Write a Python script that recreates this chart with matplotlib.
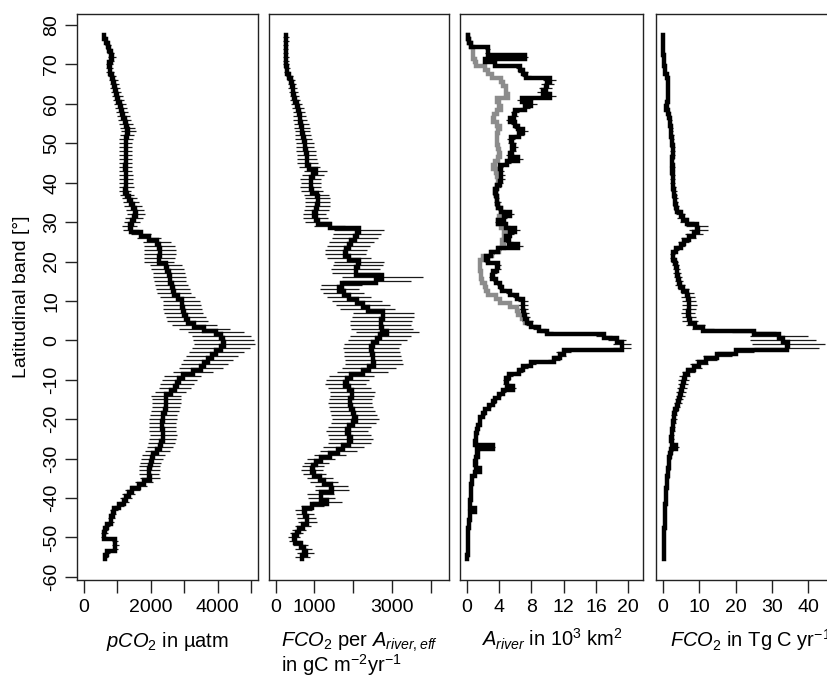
import matplotlib
matplotlib.use("Agg")
import matplotlib.pyplot as plt
import numpy as np

plt.rcParams["font.family"] = ["Liberation Sans", "DejaVu Sans"]
plt.rcParams["mathtext.fontset"] = "custom"
plt.rcParams["mathtext.rm"] = "Liberation Sans"
plt.rcParams["mathtext.it"] = "Liberation Sans:italic"

# latitude bands, 77N to 55S
lat = np.arange(77, -56, -1)

pco2 = [600, 680, 720, 760, 800, 850, 800, 760, 770, 790,
        840, 880, 910, 940, 970, 1000, 1030, 1070, 1100, 1140,
        1180, 1220, 1260, 1300, 1330, 1280, 1260, 1250, 1255, 1250,
        1250, 1255, 1250, 1240, 1250, 1260, 1265, 1260, 1270, 1230,
        1280, 1360, 1400, 1470, 1520, 1560, 1500, 1430, 1370, 1400,
        1700, 1950, 2180, 2250, 2280, 2280, 2250, 2240, 2450, 2500,
        2540, 2570, 2580, 2620, 2670, 2690, 2800, 2920, 2940, 2950,
        2990, 3060, 3100, 3300, 3600, 3950, 4100, 4170, 4200, 4100,
        3950, 3820, 3700, 3600, 3500, 3250, 2950, 2850, 2780, 2730,
        2600, 2460, 2460, 2460, 2450, 2420, 2380, 2360, 2340, 2350,
        2360, 2370, 2360, 2320, 2280, 2200, 2080, 2040, 2000, 1970,
        1960, 1960, 1980, 1800, 1640, 1450, 1340, 1260, 1200, 1050,
        890, 860, 820, 800, 700, 640, 620, 610, 930, 940,
        930, 700, 650]
pco2_err = [60, 70, 80, 90, 100, 120, 110, 100, 110, 120,
            130, 140, 140, 150, 150, 160, 170, 180, 180, 190,
            200, 200, 210, 220, 230, 210, 200, 200, 200, 190,
            200, 200, 190, 190, 200, 200, 210, 200, 220, 190,
            210, 230, 240, 260, 270, 280, 260, 240, 220, 240,
            300, 350, 420, 460, 470, 470, 460, 450, 470, 480,
            480, 490, 480, 490, 500, 510, 520, 560, 560, 570,
            580, 600, 620, 680, 760, 840, 880, 900, 900, 860,
            820, 780, 740, 700, 660, 600, 560, 520, 500, 480,
            460, 440, 430, 430, 420, 420, 410, 410, 400, 400,
            400, 400, 400, 390, 380, 360, 340, 330, 320, 310,
            310, 300, 300, 280, 260, 230, 200, 180, 160, 140,
            120, 110, 100, 100, 90, 90, 90, 90, 100, 100,
            100, 90, 80]

fco2_area = [260, 260, 260, 260, 260, 265, 270, 275, 290, 300,
             350, 390, 420, 440, 460, 480, 510, 540, 570, 600,
             620, 640, 660, 680, 690, 710, 730, 750, 760, 780,
             800, 810, 820, 870, 1030, 960, 900, 905, 910, 930,
             1060, 1080, 1080, 1075, 1050, 1000, 1030, 1090, 1400, 2150,
             2100, 2050, 1950, 1880, 1810, 1800, 1900, 2150, 2120, 2060,
             2080, 2750, 2600, 1700, 1640, 1760, 1900, 2100, 2250, 2370,
             2780, 2760, 2720, 2710, 2750, 2880, 2700, 2620, 2500, 2460,
             2480, 2500, 2520, 2540, 2400, 2250, 1950, 1850, 1800, 1900,
             1980, 1960, 1930, 1920, 1950, 1990, 2020, 2060, 2000, 1900,
             1850, 1900, 1940, 1900, 1750, 1620, 1400, 1170, 1050, 960,
             940, 1000, 1150, 1250, 1440, 1450, 1160, 1180, 1330, 950,
             730, 760, 800, 820, 700, 600, 540, 480, 500, 650,
             720, 770, 690]
fco2_area_err = [80, 80, 70, 70, 70, 70, 70, 80, 80, 80,
                 90, 100, 100, 110, 110, 120, 130, 140, 150, 160,
                 170, 180, 190, 200, 200, 210, 220, 230, 240, 250,
                 250, 250, 260, 270, 300, 280, 260, 260, 270, 280,
                 320, 330, 330, 330, 320, 300, 320, 330, 400, 650,
                 630, 600, 580, 560, 540, 540, 570, 640, 640, 620,
                 620, 1050, 900, 520, 500, 530, 570, 640, 700, 720,
                 780, 800, 790, 780, 800, 820, 780, 760, 740, 720,
                 720, 730, 740, 740, 700, 660, 580, 560, 540, 560,
                 580, 570, 560, 560, 570, 580, 590, 600, 580, 560,
                 540, 560, 570, 560, 520, 480, 420, 350, 320, 290,
                 280, 300, 340, 370, 420, 430, 350, 350, 390, 290,
                 220, 230, 240, 240, 210, 180, 160, 150, 150, 190,
                 210, 220, 200]

a_river = [0.1, 0.3, 0.5, 2.6, 2.6, 7.2, 2.3, 3.5, 6.6, 7.0,
           7.4, 10.3, 10.0, 9.8, 9.5, 10.3, 6.8, 8.0, 7.2, 6.0,
           5.8, 5.4, 6.0, 6.4, 7.0, 6.5, 5.5, 5.6, 5.8, 5.6,
           5.4, 6.4, 5.0, 4.1, 4.2, 4.3, 4.3, 4.1, 3.8, 3.5,
           3.6, 3.7, 3.8, 3.9, 4.3, 5.4, 4.6, 3.9, 4.8, 6.0,
           5.4, 4.8, 5.2, 6.3, 3.9, 3.0, 2.4, 2.6, 3.9, 3.8,
           3.3, 3.1, 3.6, 4.1, 4.4, 5.4, 6.2, 7.0, 7.0, 7.0,
           7.1, 7.2, 7.5, 8.0, 9.0, 9.9, 17.0, 18.6, 19.2, 19.2,
           12.0, 11.5, 10.8, 8.0, 7.0, 6.5, 5.2, 4.9, 5.0, 5.7,
           4.5, 4.0, 3.5, 3.3, 2.8, 2.2, 2.0, 1.7, 1.6, 1.4,
           1.3, 1.2, 1.1, 1.0, 3.3, 1.3, 1.4, 1.1, 1.0, 1.2,
           1.6, 1.0, 0.6, 0.6, 0.5, 0.5, 0.5, 0.5, 0.4, 0.4,
           1.0, 0.4, 0.4, 0.3, 0.3, 0.2, 0.2, 0.2, 0.2, 0.1,
           0.1, 0.1, 0.0]
a_river_err = [0.05, 0.1, 0.1, 0.3, 0.3, 0.4, 0.3, 0.3, 0.5, 0.6,
               0.6, 0.8, 0.8, 0.8, 0.8, 0.8, 0.6, 0.7, 0.6, 0.5,
               0.5, 0.5, 0.5, 0.6, 0.6, 0.6, 0.5, 0.5, 0.5, 0.5,
               0.5, 0.6, 0.5, 0.4, 0.4, 0.4, 0.4, 0.4, 0.4, 0.3,
               0.3, 0.3, 0.4, 0.4, 0.4, 0.5, 0.4, 0.4, 0.5, 0.6,
               0.5, 0.5, 0.5, 0.7, 0.4, 0.4, 0.3, 0.3, 0.3, 0.4,
               0.4, 0.3, 0.3, 0.4, 0.4, 0.5, 0.5, 0.6, 0.6, 0.6,
               0.6, 0.6, 0.7, 0.7, 0.8, 0.8, 1.0, 1.1, 1.1, 1.1,
               0.9, 0.8, 0.7, 0.6, 0.6, 0.5, 0.5, 0.4, 0.5, 0.4,
               0.4, 0.3, 0.3, 0.3, 0.2, 0.2, 0.2, 0.1, 0.1, 0.1,
               0.1, 0.1, 0.1, 0.1, 0.2, 0.1, 0.1, 0.1, 0.1, 0.1,
               0.1, 0.1, 0.05, 0.05, 0.05, 0.05, 0.05, 0.05, 0.05, 0.05,
               0.05, 0.05, 0.05, 0.05, 0.05, 0.05, 0.05, 0.05, 0.05, 0.05,
               0.05, 0.05, 0.05]

# effective river area (grey), only differs north of 5N
lat_eff = np.arange(77, 4, -1)
a_river_eff = [0.1, 0.3, 0.5, 0.8, 0.8, 0.8, 1.0, 1.2, 2.2, 2.6,
               3.1, 4.3, 4.5, 4.9, 4.9, 5.1, 3.7, 4.0, 4.3, 3.8,
               3.4, 3.3, 3.8, 4.1, 3.9, 3.7, 3.7, 3.8, 3.9, 4.0,
               4.1, 3.9, 3.5, 3.3, 3.6, 3.8, 3.9, 3.9, 3.8, 3.5,
               3.6, 3.7, 3.8, 3.9, 4.2, 4.3, 4.0, 3.9, 4.2, 4.6,
               5.0, 4.6, 4.4, 4.6, 4.0, 3.1, 2.0, 1.6, 1.6, 1.7,
               1.8, 1.8, 1.9, 2.2, 2.4, 2.6, 3.6, 4.1, 5.4, 6.2,
               6.4, 6.8, 7.2]

fco2 = [0.0, 0.1, 0.1, 0.2, 0.2, 0.3, 0.3, 0.4, 0.5, 0.7,
        1.1, 1.4, 1.4, 1.4, 1.4, 1.4, 1.4, 1.2, 0.9, 1.5,
        1.8, 2.0, 2.1, 2.2, 2.3, 2.4, 2.5, 2.6, 2.7, 2.7,
        2.7, 2.6, 2.6, 2.7, 2.6, 2.7, 2.7, 2.8, 2.9, 3.1,
        3.2, 3.3, 3.5, 3.6, 4.0, 4.9, 5.5, 6.7, 9.3, 9.8,
        8.5, 7.1, 5.8, 4.9, 3.6, 2.7, 2.9, 3.3, 3.6, 3.8,
        4.0, 4.2, 4.5, 4.8, 5.6, 6.7, 7.0, 7.2, 7.3, 7.2,
        7.0, 7.2, 7.5, 9.0, 11.0, 25.0, 32.0, 33.0, 34.5, 34.0,
        20.0, 15.0, 12.0, 10.0, 8.5, 7.0, 6.0, 5.8, 5.6, 5.3,
        5.0, 4.8, 4.5, 4.2, 3.8, 3.4, 3.1, 3.0, 2.9, 2.7,
        2.6, 2.5, 2.4, 2.5, 3.7, 2.2, 2.0, 1.8, 1.7, 1.6,
        1.5, 1.4, 1.3, 1.2, 1.1, 1.0, 0.9, 0.8, 0.8, 0.7,
        0.6, 0.6, 0.5, 0.5, 0.5, 0.4, 0.4, 0.4, 0.3, 0.3,
        0.3, 0.3, 0.3]
fco2_err = [0.05, 0.05, 0.05, 0.1, 0.1, 0.1, 0.1, 0.1, 0.1, 0.15,
            0.2, 0.2, 0.2, 0.2, 0.2, 0.3, 0.3, 0.3, 0.3, 0.4,
            0.4, 0.5, 0.5, 0.5, 0.5, 0.6, 0.6, 0.6, 0.6, 0.6,
            0.6, 0.6, 0.6, 0.6, 0.6, 0.6, 0.6, 0.7, 0.7, 0.7,
            0.7, 0.8, 0.8, 0.8, 1.0, 1.2, 1.5, 2.0, 3.0, 2.5,
            2.5, 2.0, 1.5, 1.2, 0.9, 0.7, 0.8, 0.9, 1.0, 1.0,
            1.1, 1.1, 1.2, 1.3, 1.5, 1.8, 1.9, 2.0, 2.0, 2.0,
            2.0, 2.0, 2.2, 2.5, 3.0, 6.0, 8.0, 9.0, 10.0, 9.0,
            5.0, 4.0, 3.0, 2.5, 2.2, 1.8, 1.6, 1.5, 1.4, 1.4,
            1.3, 1.2, 1.2, 1.1, 1.0, 0.9, 0.8, 0.8, 0.7, 0.7,
            0.7, 0.6, 0.6, 0.6, 0.9, 0.5, 0.5, 0.4, 0.4, 0.4,
            0.4, 0.3, 0.3, 0.3, 0.3, 0.2, 0.2, 0.2, 0.2, 0.2,
            0.1, 0.1, 0.1, 0.1, 0.1, 0.1, 0.1, 0.1, 0.1, 0.1,
            0.1, 0.1, 0.1]

lat_ticks = list(range(80, -61, -10))


def band_steps(lats, values):
    """Turn band values into a vertical step line (one flat segment per band)."""
    lats = np.asarray(lats, dtype=float)
    y = np.column_stack([lats + 0.5, lats - 0.5]).ravel()
    x = np.repeat(np.asarray(values, dtype=float), 2)
    return x, y


def draw_panel(ax, values, errors, color="black"):
    v = np.asarray(values)
    e = np.asarray(errors)
    ax.hlines(lat, v - e, v + e, color="#1a1a1a", lw=0.9, zorder=2)
    x, y = band_steps(lat, values)
    ax.plot(x, y, color=color, lw=3.2, solid_joinstyle="miter", zorder=3)


fig = plt.figure(figsize=(8.28, 6.81), dpi=100)
W, H = 828.0, 681.0
bottom = (H - 580) / H
height = (580 - 14) / H
ax1 = fig.add_axes([77 / W, bottom, 181 / W, height])
ax2 = fig.add_axes([269 / W, bottom, 180 / W, height])
ax3 = fig.add_axes([460 / W, bottom, 183 / W, height])
ax4 = fig.add_axes([656 / W, bottom, 181 / W, height])

draw_panel(ax1, pco2, pco2_err)
draw_panel(ax2, fco2_area, fco2_area_err)

# river area: grey effective area under the black total
xg, yg = band_steps(lat_eff, a_river_eff)
ax3.plot(xg, yg, color="#8c8c8c", lw=3.2, solid_joinstyle="miter", zorder=2.5)
draw_panel(ax3, a_river, a_river_err)
draw_panel(ax4, fco2, fco2_err)

ax1.set_xlim(-200, 5200)
ax1.set_xticks([0, 1000, 2000, 3000, 4000, 5000])
ax1.set_xticklabels(["0", "", "2000", "", "4000", ""])

ax2.set_xlim(-172, 4472)
ax2.set_xticks([0, 1000, 2000, 3000, 4000])
ax2.set_xticklabels(["0", "1000", "", "3000", ""])

ax3.set_xlim(-0.84, 21.84)
ax3.set_xticks([0, 4, 8, 12, 16, 20])

ax4.set_xlim(-1.84, 47.84)
ax4.set_xticks([0, 10, 20, 30, 40])

for ax in (ax1, ax2, ax3, ax4):
    ax.set_ylim(-60.8, 82.8)
    for s in ax.spines.values():
        s.set_linewidth(1.0)
        s.set_color("#222222")
    ax.tick_params(axis="x", direction="out", length=9.5, width=1,
                   labelsize=14, pad=4, color="#222222")
    if ax is not ax1:
        ax.set_yticks([])

ax1.set_yticks(lat_ticks)
ax1.set_yticklabels([str(t) for t in lat_ticks])
ax1.tick_params(axis="y", direction="out", length=9, width=1,
                labelsize=14, pad=3, labelrotation=90, color="#222222")
for t in ax1.get_yticklabels():
    t.set_verticalalignment("center")

fig.text(22 / W, 1 - 297 / H, "Latitudinal band [°]", rotation=90,
         ha="center", va="center", fontsize=14)

fs = 14.5
fig.text(167.5 / W, 1 - 647 / H, r"$\mathit{pCO}_2$ in µatm",
         ha="center", va="baseline", fontsize=fs)
fig.text(281 / W, 1 - 647 / H, r"$\mathit{FCO}_2$ per $\mathit{A}_{\mathit{river,eff}}$",
         ha="left", va="baseline", fontsize=fs)
fig.text(281 / W, 1 - 672 / H, r"in gC m$^{-2}$yr$^{-1}$",
         ha="left", va="baseline", fontsize=fs)
fig.text(551.5 / W, 1 - 647 / H, r"$\mathit{A}_{\mathit{river}}$ in 10$^3$ km$^2$",
         ha="center", va="baseline", fontsize=fs)
# the reference figure crops this label at its right edge
fig.text(670 / W, 1 - 647 / H, r"$\mathit{FCO}_2$ in Tg C yr$^{-1}$",
         ha="left", va="baseline", fontsize=fs)

fig.savefig("out.png", dpi=100)
